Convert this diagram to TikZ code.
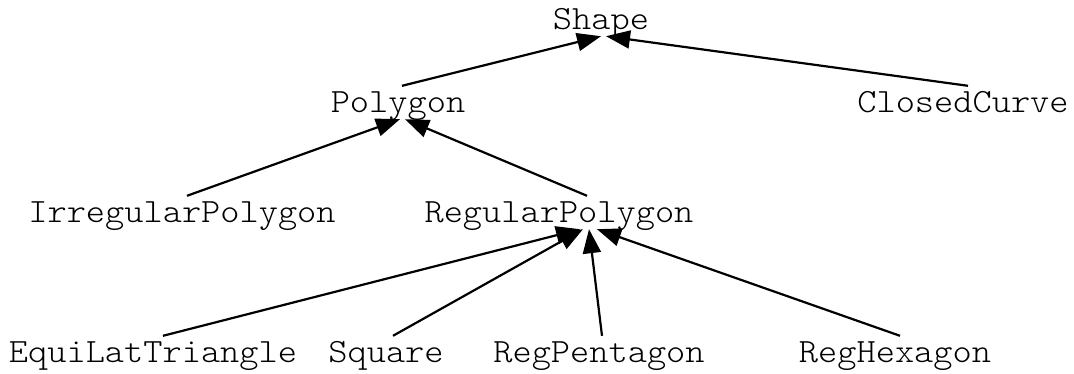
\documentclass[tikz,border=0pt]{standalone}
\usepackage{fontspec}
\usetikzlibrary{arrows.meta}
\newfontfamily\courfont{lmmonolt10-regular.otf}[FakeStretch=1.076]
\begin{document}
\begin{tikzpicture}[x=1pt,y=-1pt,
  cls/.style={font=\courfont\fontsize{34}{36}\selectfont, anchor=base,
    inner sep=0pt, text height=26pt, text depth=7pt},
  inh/.style={draw=black, line width=2.2pt, -{Triangle[length=24pt,width=18pt]}}]
\useasboundingbox (0,0) rectangle (1074,373);
% nodes
\node[cls] (shape)     at (601,29)  {Shape};
\node[cls] (polygon)   at (398,112) {Polygon};
\node[cls] (closed)    at (963,112) {ClosedCurve};
\node[cls] (irregular) at (182,222) {IrregularPolygon};
\node[cls] (regular)   at (559,222) {RegularPolygon};
\node[cls] (equi)      at (153,362) {EquiLatTriangle};
\node[cls] (square)    at (386,362) {Square};
\node[cls] (pent)      at (599,362) {RegPentagon};
\node[cls] (hex)       at (895,362) {RegHexagon};
% edges
\draw[inh] ([xshift=4pt]polygon.north)   -- ([xshift=0pt]shape.south);
\draw[inh] ([xshift=5pt]closed.north)    -- ([xshift=5pt]shape.south);
\draw[inh] ([xshift=5pt]irregular.north) -- ([xshift=2pt]polygon.south);
\draw[inh] ([xshift=28pt]regular.north)  -- ([xshift=7pt]polygon.south);
\draw[inh] ([xshift=10pt]equi.north)     -- ([xshift=21pt]regular.south);
\draw[inh] ([xshift=7pt]square.north)    -- ([xshift=24pt]regular.south);
\draw[inh] ([xshift=3pt]pent.north)      -- ([xshift=30pt]regular.south);
\draw[inh] ([xshift=5pt]hex.north)       -- ([xshift=38pt]regular.south);
\end{tikzpicture}
\end{document}
